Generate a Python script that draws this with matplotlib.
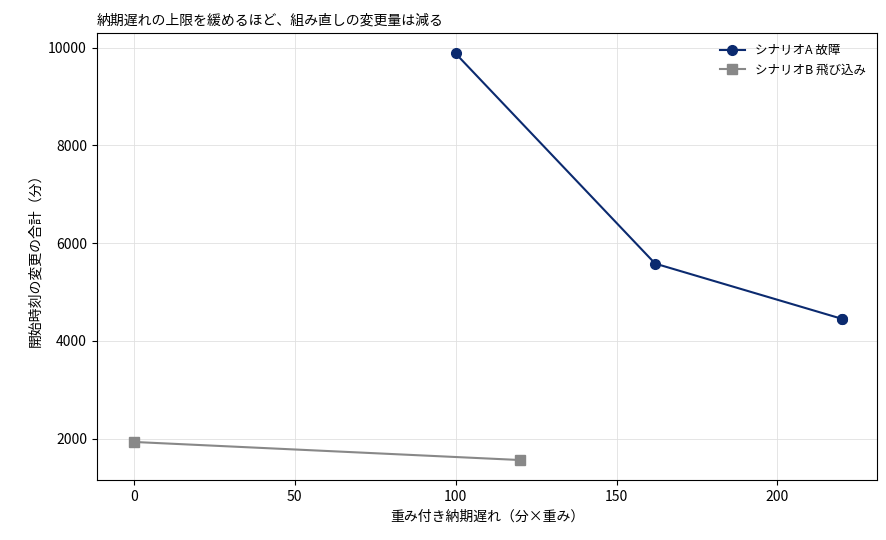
import matplotlib.pyplot as plt

plt.rcParams["font.family"] = ["Noto Sans CJK JP", "DejaVu Sans"]

a_x = [100, 162, 220, 220]
a_y = [9880, 5580, 4450, 4450]
b_x = [0, 120]
b_y = [1930, 1560]

fig, ax = plt.subplots(figsize=(8.87, 5.4), dpi=100)
fig.subplots_adjust(left=0.109, right=0.989, top=0.939, bottom=0.111)
ax.plot(a_x, a_y, marker="o", markersize=7, color="#0b2a6f", label="シナリオA 故障")
ax.plot(b_x, b_y, marker="s", markersize=7, color="#888888", label="シナリオB 飛び込み")
ax.set_title("納期遅れの上限を緩めるほど、組み直しの変更量は減る", loc="left", fontsize=10)
ax.set_xlabel("重み付き納期遅れ（分×重み）")
ax.set_ylabel("開始時刻の変更の合計（分）")
ax.set_xlim(-11.5, 231)
ax.set_ylim(1150, 10300)
ax.grid(True, color="#e0e0e0", linewidth=0.6)
ax.legend(frameon=False, fontsize=9)
fig.savefig("out.png")
